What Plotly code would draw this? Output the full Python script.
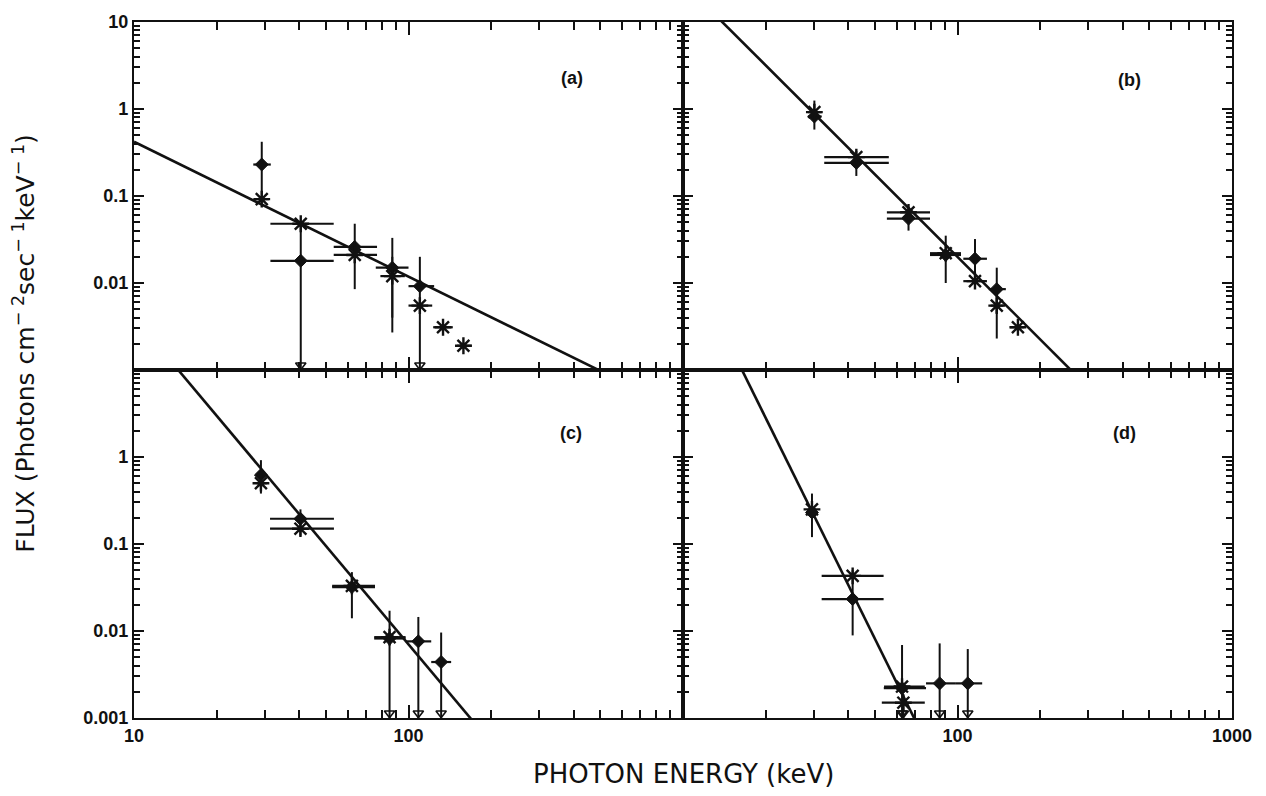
import numpy as np
import plotly.graph_objects as go
from plotly.subplots import make_subplots

# Each row: energy (keV), flux, energy-bin low, energy-bin high, flux low, flux high
# Flux is in photons cm^-2 s^-1 keV^-1; a flux low of 0.001 marks an upper limit.
A_DIAMOND = [
    (29.2, 0.23, 27.2, 31.5, 0.085, 0.42),
    (40.5, 0.018, 31.4, 53.4, 0.001, 0.050),
    (63.7, 0.026, 53.4, 76.8, 0.020, 0.048),
    (87.3, 0.015, 76.0, 100.0, 0.0027, 0.033),
    (110.0, 0.0092, 100.0, 124.0, 0.001, 0.020),
]
A_STAR = [
    (29.2, 0.092, 28.0, 31.0, 0.092, 0.092),
    (40.5, 0.048, 31.4, 53.4, 0.048, 0.048),
    (63.7, 0.021, 53.4, 76.8, 0.0085, 0.030),
    (87.3, 0.012, 79.0, 97.0, 0.004, 0.020),
    (110.0, 0.0055, 100.0, 122.0, 0.0055, 0.0055),
    (133.6, 0.0031, 123.0, 145.0, 0.0031, 0.0031),
    (158.5, 0.0019, 150.0, 170.0, 0.0019, 0.0019),
]

B_DIAMOND = [
    (30.1, 0.82, 28.5, 32.0, 0.58, 1.25),
    (42.8, 0.24, 32.7, 56.2, 0.17, 0.33),
    (66.3, 0.055, 55.3, 79.4, 0.040, 0.075),
    (90.6, 0.021, 79.4, 103.0, 0.010, 0.035),
    (115.8, 0.019, 105.0, 128.0, 0.011, 0.032),
    (139.0, 0.0085, 130.0, 150.0, 0.0045, 0.015),
]
B_STAR = [
    (30.1, 0.92, 28.5, 32.0, 0.92, 0.92),
    (42.8, 0.28, 32.7, 56.2, 0.28, 0.28),
    (66.3, 0.065, 55.3, 79.4, 0.065, 0.065),
    (90.6, 0.022, 79.4, 103.0, 0.022, 0.022),
    (115.8, 0.0105, 105.0, 128.0, 0.0105, 0.0105),
    (139.0, 0.0055, 132.0, 147.0, 0.0023, 0.008),
    (166.0, 0.0031, 155.0, 175.0, 0.0031, 0.0031),
]

C_DIAMOND = [
    (29.0, 0.62, 28.0, 30.5, 0.38, 0.92),
    (40.4, 0.195, 31.3, 53.5, 0.125, 0.25),
    (62.2, 0.032, 52.7, 75.5, 0.014, 0.0475),
    (85.3, 0.0082, 75.0, 97.6, 0.001, 0.0171),
    (108.6, 0.0076, 97.6, 121.0, 0.001, 0.0145),
    (131.5, 0.0044, 121.0, 143.0, 0.001, 0.0096),
]
C_STAR = [
    (29.0, 0.50, 28.0, 30.5, 0.50, 0.50),
    (40.4, 0.15, 31.3, 53.5, 0.15, 0.15),
    (62.2, 0.033, 52.7, 75.5, 0.033, 0.033),
    (85.3, 0.0085, 75.0, 97.6, 0.0085, 0.0085),
]

D_DIAMOND = [
    (29.5, 0.23, 28.5, 30.5, 0.12, 0.38),
    (41.5, 0.0233, 32.0, 53.8, 0.0089, 0.050),
    (62.8, 0.0022, 53.9, 76.8, 0.001, 0.0069),
    (86.1, 0.0025, 76.8, 98.0, 0.001, 0.0072),
    (109.0, 0.0025, 98.0, 123.0, 0.001, 0.0062),
]
D_STAR = [
    (29.5, 0.25, 28.5, 30.5, 0.25, 0.25),
    (41.5, 0.043, 32.0, 53.8, 0.043, 0.043),
    (62.8, 0.0023, 54.0, 76.0, 0.0023, 0.0023),
    (63.5, 0.0015, 53.0, 76.0, 0.001, 0.0015),
]

# Power-law fits: flux at 10 keV and photon index, one per panel
FIT_NORM_10KEV = [0.42, 28.2, 40.4, 235.0]
FIT_INDEX = [1.55, 3.15, 3.76, 6.38]

PANEL_LABELS = ["(a)", "(b)", "(c)", "(d)"]
Y_TICKS = [0.001, 0.01, 0.1, 1, 10]
Y_TICKTEXT = ["0.001", "0.01", "0.1", "1", "10"]

FLUX_FLOOR = 0.001
X_RANGE = [1, 3]     # log10 keV
Y_RANGE = [-3, 1]    # log10 flux

PANELS = [
    (1, 1, A_DIAMOND, A_STAR),
    (1, 2, B_DIAMOND, B_STAR),
    (2, 1, C_DIAMOND, C_STAR),
    (2, 2, D_DIAMOND, D_STAR),
]

INK = "#111111"
TITLE_FONT = "DejaVu Sans"
TICK_FONT = "Liberation Sans"

fig = make_subplots(rows=2, cols=2, horizontal_spacing=0, vertical_spacing=0)


def add_points(rows, symbol, size, row, col, line_w):
    e = np.array([r[0] for r in rows])
    f = np.array([r[1] for r in rows])
    elo = np.array([r[2] for r in rows])
    ehi = np.array([r[3] for r in rows])
    flo = np.array([r[4] for r in rows])
    fhi = np.array([r[5] for r in rows])
    fig.add_trace(
        go.Scatter(
            x=e, y=f, mode="markers",
            marker=dict(symbol=symbol, size=size, color=INK,
                        line=dict(color=INK, width=line_w)),
            error_x=dict(type="data", symmetric=False, array=ehi - e,
                         arrayminus=e - elo, thickness=2.2, width=0, color=INK),
            error_y=dict(type="data", symmetric=False, array=fhi - f,
                         arrayminus=f - flo, thickness=2.0, width=0, color=INK),
            showlegend=False, hoverinfo="skip",
        ),
        row=row, col=col,
    )
    # upper-limit arrows at the bottom of the panel
    lim = e[flo <= FLUX_FLOOR]
    if len(lim):
        fig.add_trace(
            go.Scatter(
                x=lim, y=np.full(len(lim), FLUX_FLOOR * 10 ** 0.055),
                mode="markers",
                marker=dict(symbol="triangle-down-open", size=9, color=INK,
                            line=dict(color=INK, width=1.6)),
                showlegend=False, hoverinfo="skip", cliponaxis=False,
            ),
            row=row, col=col,
        )


for i, (row, col, dia, star) in enumerate(PANELS):
    energy = np.geomspace(10, 1000, 60)
    flux = FIT_NORM_10KEV[i] * (energy / 10.0) ** (-FIT_INDEX[i])
    fig.add_trace(
        go.Scatter(x=energy, y=flux, mode="lines",
                   line=dict(color=INK, width=2.6),
                   showlegend=False, hoverinfo="skip"),
        row=row, col=col,
    )
    add_points(dia, "diamond", 10, row, col, 1)
    add_points(star, "asterisk-open", 14, row, col, 2.4)

x_minor = [m * 10 ** k for k in range(1, 3) for m in range(2, 10)]
y_minor = [m * 10 ** k for k in range(-3, 1) for m in range(2, 10)]

for row in (1, 2):
    for col in (1, 2):
        xt = [10, 100] if col == 1 else [100, 1000]
        fig.update_xaxes(
            type="log", range=X_RANGE,
            tickmode="array", tickvals=xt, ticktext=[str(v) for v in xt],
            showticklabels=(row == 2),
            ticks="inside", ticklen=13, tickwidth=2, tickcolor=INK,
            minor=dict(ticks="inside", ticklen=8, tickwidth=1.6,
                       tickcolor=INK, tickmode="array", tickvals=x_minor),
            showline=True, linewidth=2.2, linecolor=INK, mirror="allticks",
            showgrid=False, zeroline=False,
            tickfont=dict(family=TICK_FONT, size=18, color=INK, weight="bold"),
            row=row, col=col,
        )
        if row == 1:
            yt, ytt = Y_TICKS[1:], Y_TICKTEXT[1:]
        else:
            yt, ytt = Y_TICKS[:-1], Y_TICKTEXT[:-1]
        fig.update_yaxes(
            type="log", range=Y_RANGE,
            tickmode="array", tickvals=yt, ticktext=ytt,
            showticklabels=(col == 1),
            ticks="inside", ticklen=10, tickwidth=2, tickcolor=INK,
            minor=dict(ticks="inside", ticklen=6, tickwidth=1.6,
                       tickcolor=INK, tickmode="array", tickvals=y_minor),
            showline=True, linewidth=2.2, linecolor=INK, mirror="allticks",
            showgrid=False, zeroline=False,
            tickfont=dict(family=TICK_FONT, size=18, color=INK, weight="bold"),
            row=row, col=col,
        )

# panel tags
tag_pos = [(0.399, 0.919), (0.907, 0.917), (0.398, 0.410), (0.902, 0.410)]
for label, (px, py) in zip(PANEL_LABELS, tag_pos):
    fig.add_annotation(text=label, xref="paper", yref="paper", x=px, y=py,
                       showarrow=False, xanchor="center", yanchor="middle",
                       font=dict(family=TICK_FONT, size=18, color=INK, weight="bold"))

fig.add_annotation(
    text="PHOTON ENERGY (keV)", xref="paper", yref="paper",
    x=0.5, y=-0.081, showarrow=False, xanchor="center", yanchor="middle",
    font=dict(family=TITLE_FONT, size=26, color=INK),
)
fig.add_annotation(
    text="FLUX (Photons cm<sup>\u2212 2</sup>sec<sup>\u2212 1</sup>keV<sup>\u2212 1</sup>)",
    xref="paper", yref="paper", x=-0.1, y=0.538, textangle=-90,
    showarrow=False, xanchor="center", yanchor="middle",
    font=dict(family=TITLE_FONT, size=25, color=INK),
)

fig.update_layout(
    width=1266, height=796,
    margin=dict(l=134, r=34, t=16, b=78),
    paper_bgcolor="white", plot_bgcolor="white",
    showlegend=False,
)

fig.write_html("out.html")
